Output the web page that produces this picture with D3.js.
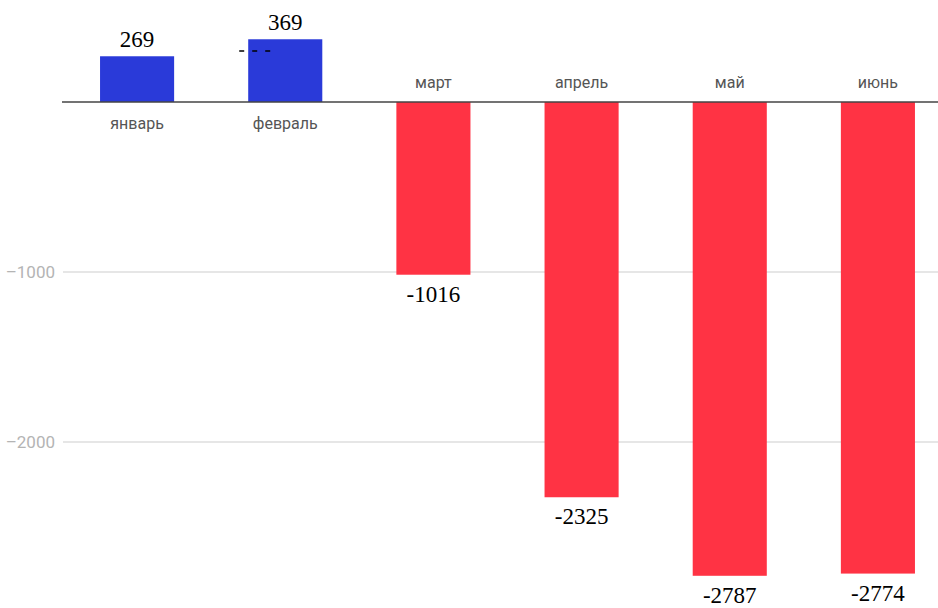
<!DOCTYPE html>
<html>
<head>
<meta charset="utf-8">
<script src="https://cdn.jsdelivr.net/npm/d3@7"></script>
<style>
  html, body { margin: 0; padding: 0; background: #fff; }
  svg { display: block; }
</style>
</head>
<body>
<div id="chart"></div>
<script>
var months = ['январь', 'февраль', 'март', 'апрель', 'май', 'июнь']
var values = [269, 369, -1016, -2325, -2787, -2774]
var yTicks = [-1000, -2000]

var width = 938
var height = 608

var svg = d3.select('#chart').append('svg')
  .attr('width', width)
  .attr('height', height)

var x = d3.scaleBand()
  .domain(months)
  .range([63, 952])
  .paddingInner(0.5)
  .paddingOuter(0.25)

// 170px per 1000
var y = d3.scaleLinear()
  .domain([0, -1000])
  .range([102, 272])

// grid lines
svg.append('g').selectAll('line')
  .data(yTicks)
  .enter().append('line')
  .attr('x1', 63)
  .attr('x2', width)
  .attr('y1', function (d) { return y(d) })
  .attr('y2', function (d) { return y(d) })
  .attr('stroke', '#e6e6e6')
  .attr('stroke-width', 2)

svg.append('g').selectAll('text')
  .data(yTicks)
  .enter().append('text')
  .attr('x', 55)
  .attr('y', function (d) { return y(d) })
  .attr('dy', '0.35em')
  .attr('text-anchor', 'end')
  .style('font-family', 'Roboto, sans-serif')
  .style('font-size', '17px')
  .style('fill', '#b4b4b4')
  .text(function (d) { return '\u2013' + Math.abs(d) })

// bars
svg.append('g').selectAll('rect')
  .data(values)
  .enter().append('rect')
  .attr('x', function (d, i) { return x(months[i]) })
  .attr('width', x.bandwidth())
  .attr('y', function (d) { return d > 0 ? y(d) : y(0) })
  .attr('height', function (d) { return Math.abs(y(d) - y(0)) })
  .attr('fill', function (d) { return d > 0 ? '#2a3ad9' : '#ff3344' })

// zero line
svg.append('line')
  .attr('x1', 62)
  .attr('x2', width)
  .attr('y1', y(0))
  .attr('y2', y(0))
  .attr('stroke', '#444')
  .attr('stroke-width', 1.6)

// month labels
svg.append('g').selectAll('text')
  .data(values)
  .enter().append('text')
  .attr('x', function (d, i) { return x(months[i]) + x.bandwidth() / 2 })
  .attr('y', function (d) { return d > 0 ? y(0) + 27 : y(0) - 14 })
  .attr('text-anchor', 'middle')
  .style('font-family', 'Roboto, sans-serif')
  .style('font-size', '16px')
  .style('fill', '#555')
  .text(function (d, i) { return months[i] })

// value labels
svg.append('g').selectAll('text')
  .data(values)
  .enter().append('text')
  .attr('x', function (d, i) { return x(months[i]) + x.bandwidth() / 2 })
  .attr('y', function (d) { return d > 0 ? y(d) - 9 : y(d) + 27 })
  .attr('text-anchor', 'middle')
  .style('font-family', '"Liberation Serif", "Times New Roman", serif')
  .style('font-size', '23px')
  .style('fill', '#000')
  .text(function (d) { return d })

// leftover dashes next to the february label
svg.append('line')
  .attr('x1', x('февраль') - 9)
  .attr('x2', x('февраль') + 23)
  .attr('y1', 51)
  .attr('y2', 51)
  .attr('stroke', '#000')
  .attr('stroke-width', 1.5)
  .attr('stroke-dasharray', '5,8')
</script>
</body>
</html>
